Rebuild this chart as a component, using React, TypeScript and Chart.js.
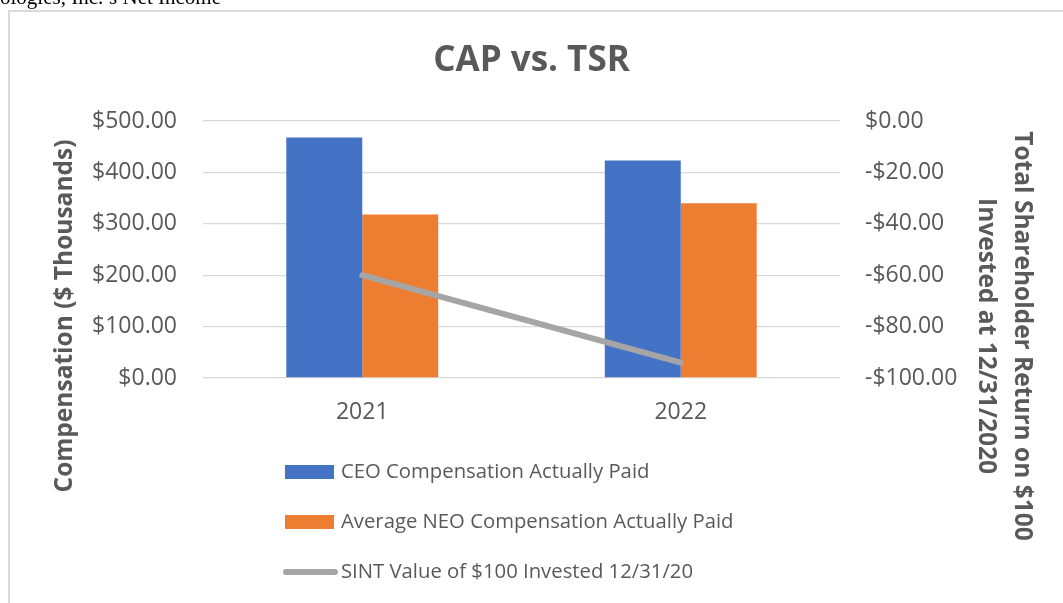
import React, { useEffect, useRef } from 'react';
import { Chart, registerables } from 'chart.js';

Chart.register(...registerables);

const categories = ['2021', '2022'];
const ceoCap = [468, 423];
const neoCap = [318, 340];
const sintTsr = [-60, -94];
const seriesLabels = [
  'CEO Compensation Actually Paid',
  'Average NEO Compensation Actually Paid',
  'SINT Value of $100 Invested 12/31/20',
];
const seriesColors = ['#4472c4', '#ed7d31', '#a5a5a5'];
const chartTitle = 'CAP vs. TSR';
const leftAxisTitle = 'Compensation ($ Thousands)';
const rightAxisTitle = ['Total Shareholder Return on $100', 'Invested at 12/31/2020'];
const leftRange = [0, 500, 100];
const rightRange = [-100, 0, 20];

const FONT = "'Open Sans', sans-serif";
const TEXT = '#595959';

const money = (v: number) => (v < 0 ? '-$' : '$') + Math.abs(v).toFixed(2);

const decorPlugin = {
  id: 'decor',
  beforeDraw(chart: any) {
    const ctx = chart.ctx;
    ctx.save();
    ctx.fillStyle = '#d9d9d9';
    ctx.fillRect(8, 10, chart.width - 8, 2);
    ctx.fillRect(8, 10, 2, chart.height - 10);
    ctx.restore();
  },
  afterDraw(chart: any) {
    const ctx = chart.ctx;
    const area = chart.chartArea;
    ctx.save();
    ctx.fillStyle = TEXT;
    ctx.textBaseline = 'middle';
    ctx.textAlign = 'center';
    // left axis title
    ctx.font = `bold 24.5px ${FONT}`;
    ctx.save();
    ctx.translate(65, 316);
    ctx.rotate(-Math.PI / 2);
    ctx.fillText(leftAxisTitle, 0, 0);
    ctx.restore();
    // right axis title
    rightAxisTitle.forEach((t, i) => {
      ctx.save();
      ctx.translate(1022 - i * 36, 336);
      ctx.rotate(Math.PI / 2);
      ctx.fillText(t, 0, 0);
      ctx.restore();
    });
    // legend
    ctx.textAlign = 'left';
    ctx.font = `20.3px ${FONT}`;
    const lx = area.left + 82;
    chart.data.datasets.forEach((ds: any, i: number) => {
      const cy = area.bottom + 94 + i * 50;
      if (ds.type === 'line') {
        ctx.strokeStyle = ds.borderColor;
        ctx.lineWidth = 6;
        ctx.lineCap = 'round';
        ctx.beginPath();
        ctx.moveTo(lx + 1, cy);
        ctx.lineTo(lx + 50, cy);
        ctx.stroke();
      } else {
        ctx.fillStyle = ds.backgroundColor;
        ctx.fillRect(lx, cy - 7, 49, 14);
      }
      ctx.fillStyle = TEXT;
      ctx.fillText(ds.label, lx + 56, cy);
    });
    ctx.restore();
  },
};

export default function App() {
  const ref = useRef<HTMLCanvasElement | null>(null);
  useEffect(() => {
    if (!ref.current) return;
    const chart = new Chart(ref.current, {
      type: 'bar',
      data: {
        labels: categories,
        datasets: [
          {
            type: 'bar',
            label: seriesLabels[0],
            data: ceoCap,
            yAxisID: 'y',
            backgroundColor: seriesColors[0],
            categoryPercentage: 0.477,
            barPercentage: 1,
            order: 1,
          },
          {
            type: 'bar',
            label: seriesLabels[1],
            data: neoCap,
            yAxisID: 'y',
            backgroundColor: seriesColors[1],
            categoryPercentage: 0.477,
            barPercentage: 1,
            order: 1,
          },
          {
            type: 'line',
            label: seriesLabels[2],
            data: sintTsr,
            yAxisID: 'y1',
            borderColor: seriesColors[2],
            backgroundColor: seriesColors[2],
            borderWidth: 6,
            borderCapStyle: 'round',
            pointRadius: 0,
            order: 0,
          } as any,
        ],
      },
      options: {
        responsive: false,
        animation: false,
        devicePixelRatio: 1,
        layout: { padding: 0 },
        plugins: {
          legend: { display: false },
          tooltip: { enabled: false },
          title: {
            display: true,
            text: chartTitle,
            color: TEXT,
            font: { family: FONT, size: 35, weight: 'bold' },
            padding: { top: 40.4, bottom: 38.6 },
          },
        },
        scales: {
          x: {
            grid: { display: false, drawTicks: false },
            border: { display: false },
            ticks: { color: TEXT, font: { family: FONT, size: 23 }, padding: 21 },
            afterFit: (s: any) => {
              s.height = 225;
            },
          },
          y: {
            position: 'left',
            min: leftRange[0],
            max: leftRange[1],
            ticks: {
              stepSize: leftRange[2],
              color: TEXT,
              font: { family: FONT, size: 23 },
              padding: 26,
              callback: (v: any) => money(Number(v)),
            },
            grid: { color: '#d9d9d9', lineWidth: 1.3, drawTicks: false },
            border: { display: false },
            afterFit: (s: any) => {
              s.width = 203;
            },
          },
          y1: {
            position: 'right',
            min: rightRange[0],
            max: rightRange[1],
            ticks: {
              stepSize: rightRange[2],
              color: TEXT,
              font: { family: FONT, size: 23 },
              padding: 25,
              callback: (v: any) => money(Number(v)),
            },
            grid: { display: false, drawTicks: false },
            border: { display: false },
            afterFit: (s: any) => {
              s.width = 223;
            },
          },
        },
      },
      plugins: [decorPlugin],
    });
    return () => chart.destroy();
  }, []);

  return (
    <div style={{ position: 'absolute', left: 0, top: 0, width: 1063, height: 603, overflow: 'hidden', background: '#fff' }}>
      <canvas ref={ref} width={1063} height={603} style={{ position: 'absolute', left: 0, top: 0 }} />
      <div
        style={{
          position: 'absolute',
          left: 0,
          top: -12.6,
          fontFamily: "'Liberation Serif', 'Times New Roman', serif",
          fontSize: 21,
          lineHeight: '21px',
          whiteSpace: 'nowrap',
          color: '#000',
        }}
      >
        ologies, Inc.’s Net Income
      </div>
    </div>
  );
}
